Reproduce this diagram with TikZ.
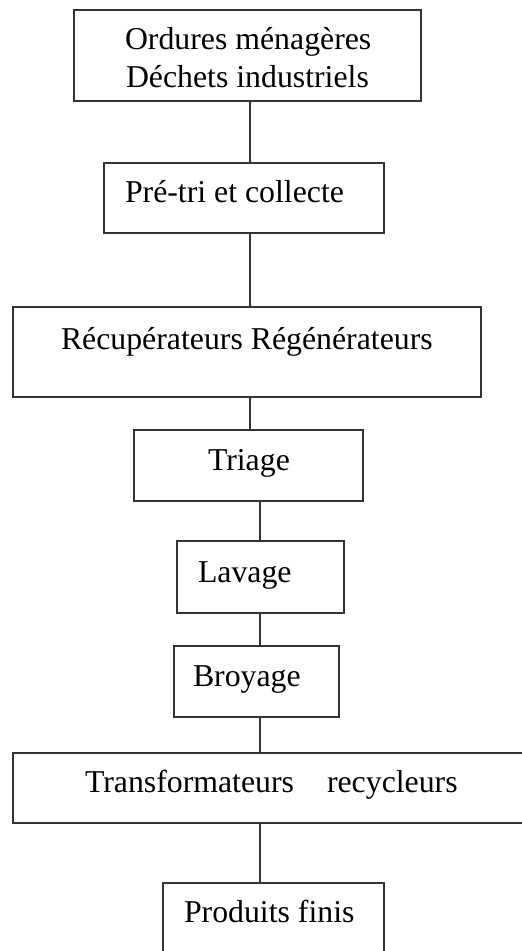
\documentclass[tikz,border=0pt]{standalone}
\usepackage{fontspec}
\setmainfont{Liberation Serif}
\begin{document}
\begin{tikzpicture}[x=1pt,y=-1pt,
  box/.style={draw=black!80,line width=1.8pt,inner sep=0pt,outer sep=0pt,anchor=north west},
  lbl/.style={inner sep=0pt,outer sep=0pt,anchor=base west,font=\fontsize{31.8}{38}\selectfont,text=black},
  link/.style={draw=black!80,line width=1.8pt}]
\useasboundingbox (0,0) rectangle (522,951);
\clip (0,0) rectangle (522,951);
\fill[white] (0,0) rectangle (522,951);
% boxes
\node[box,minimum width=347pt,minimum height=91pt] (b1) at (74,10) {};
\node[box,minimum width=280pt,minimum height=70pt] (b2) at (104,163) {};
\node[box,minimum width=468pt,minimum height=90pt] (b3) at (13,307) {};
\node[box,minimum width=229pt,minimum height=71pt] (b4) at (134,430) {};
\node[box,minimum width=167pt,minimum height=72pt] (b5) at (177,541) {};
\node[box,minimum width=165pt,minimum height=71pt] (b6) at (174,646) {};
\node[box,minimum width=530pt,minimum height=70pt] (b7) at (13,753) {};
\node[box,minimum width=221pt,minimum height=90pt] (b8) at (163,883) {};
% texts
\node[lbl] (t1a) at (125,49) {Ordures ménagères};
\node[lbl] (t1b) at (126,87) {Déchets industriels};
\node[lbl] (t2) at (125,202) {Pré-tri et collecte};
\node[lbl] (t3) at (61,349) {Récupérateurs Régénérateurs};
\node[lbl] (t4) at (208,470) {Triage};
\node[lbl] (t5) at (198,582) {Lavage};
\node[lbl] (t6) at (193,686) {Broyage};
\node[lbl] (t7) at (85,792) {Transformateurs\hspace{33pt}recycleurs};
\node[lbl] (t8) at (184,922) {Produits finis};
% connector columns
\coordinate (ca) at (250,0);
\coordinate (cb) at (260,0);
\draw[link] (b1.south -| ca) -- (b2.north -| ca);
\draw[link] (b2.south -| ca) -- (b3.north -| ca);
\draw[link] (b3.south -| ca) -- (b4.north -| ca);
\draw[link] (b4.south -| cb) -- (b5.north -| cb);
\draw[link] (b5.south -| cb) -- (b6.north -| cb);
\draw[link] (b6.south -| cb) -- (b7.north -| cb);
\draw[link] (b7.south -| cb) -- (b8.north -| cb);
\end{tikzpicture}
\end{document}
